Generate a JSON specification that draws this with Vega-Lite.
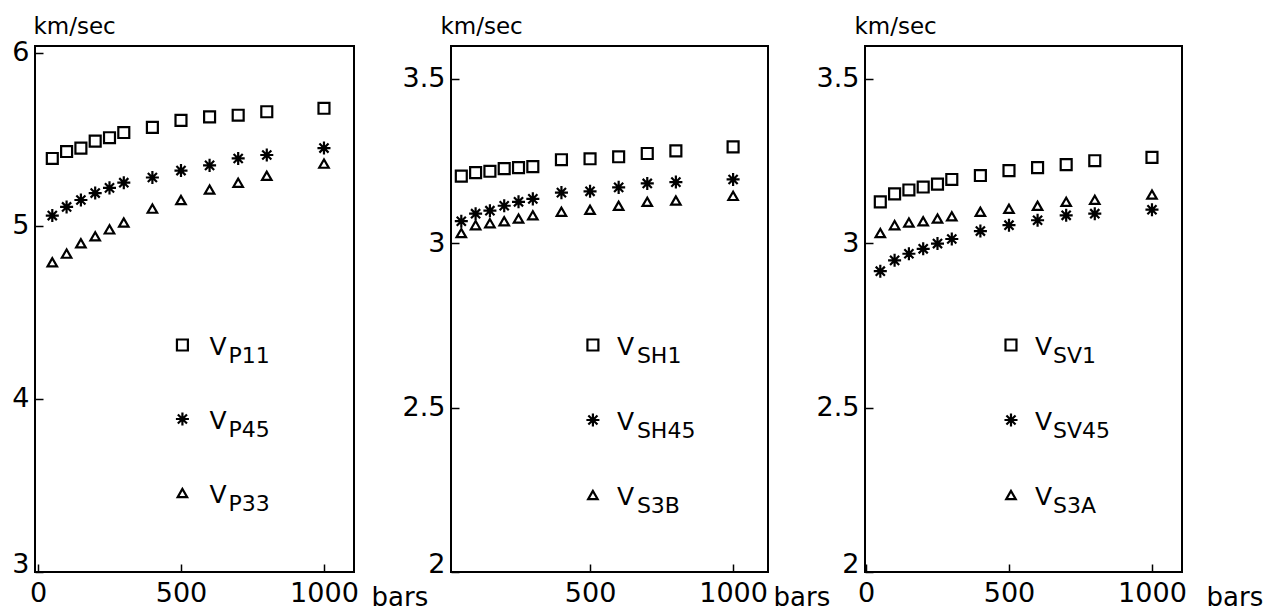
{
  "$schema": "https://vega.github.io/schema/vega-lite/v6.json",
  "background": "white",
  "padding": {"left": 10, "top": 14, "right": 5, "bottom": 5},
  "bounds": "flush",
  "spacing": 97,
  "config": {
    "view": {"stroke": "black", "strokeWidth": 2},
    "font": "DejaVu Sans",
    "axis": {
      "domain": false, "grid": false, "ticks": true, "tickColor": "black", "tickWidth": 1.5, "tickSize": -8,
      "labelColor": "black", "labelFontSize": 27, "labelFont": "DejaVu Sans",
      "titleFont": "DejaVu Sans", "titleFontWeight": "normal", "titleColor": "black"
    },
    "axisX": {"labelPadding": 16, "format": "d"},
    "axisY": {"labelPadding": 14, "format": "~f"},
    "point": {"filled": false, "stroke": "black", "strokeWidth": 2.2, "opacity": 1},
    "text": {"fill": "black", "align": "left", "baseline": "alphabetic"}
  },
  "datasets": {
    "pts": [
      {"panel":"P","series":"P11","symbol":"square","pressure":50,"velocity":5.39},
      {"panel":"P","series":"P11","symbol":"square","pressure":100,"velocity":5.43},
      {"panel":"P","series":"P11","symbol":"square","pressure":150,"velocity":5.45},
      {"panel":"P","series":"P11","symbol":"square","pressure":200,"velocity":5.49},
      {"panel":"P","series":"P11","symbol":"square","pressure":250,"velocity":5.51},
      {"panel":"P","series":"P11","symbol":"square","pressure":300,"velocity":5.54},
      {"panel":"P","series":"P11","symbol":"square","pressure":400,"velocity":5.57},
      {"panel":"P","series":"P11","symbol":"square","pressure":500,"velocity":5.61},
      {"panel":"P","series":"P11","symbol":"square","pressure":600,"velocity":5.63},
      {"panel":"P","series":"P11","symbol":"square","pressure":700,"velocity":5.64},
      {"panel":"P","series":"P11","symbol":"square","pressure":800,"velocity":5.66},
      {"panel":"P","series":"P11","symbol":"square","pressure":1000,"velocity":5.68},
      {"panel":"P","series":"P45","symbol":"star","pressure":50,"velocity":5.06},
      {"panel":"P","series":"P45","symbol":"star","pressure":100,"velocity":5.11},
      {"panel":"P","series":"P45","symbol":"star","pressure":150,"velocity":5.15},
      {"panel":"P","series":"P45","symbol":"star","pressure":200,"velocity":5.19},
      {"panel":"P","series":"P45","symbol":"star","pressure":250,"velocity":5.22},
      {"panel":"P","series":"P45","symbol":"star","pressure":300,"velocity":5.25},
      {"panel":"P","series":"P45","symbol":"star","pressure":400,"velocity":5.28},
      {"panel":"P","series":"P45","symbol":"star","pressure":500,"velocity":5.32},
      {"panel":"P","series":"P45","symbol":"star","pressure":600,"velocity":5.35},
      {"panel":"P","series":"P45","symbol":"star","pressure":700,"velocity":5.39},
      {"panel":"P","series":"P45","symbol":"star","pressure":800,"velocity":5.41},
      {"panel":"P","series":"P45","symbol":"star","pressure":1000,"velocity":5.45},
      {"panel":"P","series":"P33","symbol":"triangle","pressure":50,"velocity":4.79},
      {"panel":"P","series":"P33","symbol":"triangle","pressure":100,"velocity":4.84},
      {"panel":"P","series":"P33","symbol":"triangle","pressure":150,"velocity":4.90},
      {"panel":"P","series":"P33","symbol":"triangle","pressure":200,"velocity":4.94},
      {"panel":"P","series":"P33","symbol":"triangle","pressure":250,"velocity":4.98},
      {"panel":"P","series":"P33","symbol":"triangle","pressure":300,"velocity":5.02},
      {"panel":"P","series":"P33","symbol":"triangle","pressure":400,"velocity":5.10},
      {"panel":"P","series":"P33","symbol":"triangle","pressure":500,"velocity":5.15},
      {"panel":"P","series":"P33","symbol":"triangle","pressure":600,"velocity":5.21},
      {"panel":"P","series":"P33","symbol":"triangle","pressure":700,"velocity":5.25},
      {"panel":"P","series":"P33","symbol":"triangle","pressure":800,"velocity":5.29},
      {"panel":"P","series":"P33","symbol":"triangle","pressure":1000,"velocity":5.36},
      {"panel":"SH","series":"SH1","symbol":"square","pressure":50,"velocity":3.204},
      {"panel":"SH","series":"SH1","symbol":"square","pressure":100,"velocity":3.215},
      {"panel":"SH","series":"SH1","symbol":"square","pressure":150,"velocity":3.219},
      {"panel":"SH","series":"SH1","symbol":"square","pressure":200,"velocity":3.227},
      {"panel":"SH","series":"SH1","symbol":"square","pressure":250,"velocity":3.230},
      {"panel":"SH","series":"SH1","symbol":"square","pressure":300,"velocity":3.233},
      {"panel":"SH","series":"SH1","symbol":"square","pressure":400,"velocity":3.254},
      {"panel":"SH","series":"SH1","symbol":"square","pressure":500,"velocity":3.257},
      {"panel":"SH","series":"SH1","symbol":"square","pressure":600,"velocity":3.263},
      {"panel":"SH","series":"SH1","symbol":"square","pressure":700,"velocity":3.273},
      {"panel":"SH","series":"SH1","symbol":"square","pressure":800,"velocity":3.281},
      {"panel":"SH","series":"SH1","symbol":"square","pressure":1000,"velocity":3.293},
      {"panel":"SH","series":"SH45","symbol":"star","pressure":50,"velocity":3.067},
      {"panel":"SH","series":"SH45","symbol":"star","pressure":100,"velocity":3.090},
      {"panel":"SH","series":"SH45","symbol":"star","pressure":150,"velocity":3.099},
      {"panel":"SH","series":"SH45","symbol":"star","pressure":200,"velocity":3.114},
      {"panel":"SH","series":"SH45","symbol":"star","pressure":250,"velocity":3.126},
      {"panel":"SH","series":"SH45","symbol":"star","pressure":300,"velocity":3.135},
      {"panel":"SH","series":"SH45","symbol":"star","pressure":400,"velocity":3.154},
      {"panel":"SH","series":"SH45","symbol":"star","pressure":500,"velocity":3.158},
      {"panel":"SH","series":"SH45","symbol":"star","pressure":600,"velocity":3.170},
      {"panel":"SH","series":"SH45","symbol":"star","pressure":700,"velocity":3.182},
      {"panel":"SH","series":"SH45","symbol":"star","pressure":800,"velocity":3.186},
      {"panel":"SH","series":"SH45","symbol":"star","pressure":1000,"velocity":3.194},
      {"panel":"SH","series":"S3B","symbol":"triangle","pressure":50,"velocity":3.031},
      {"panel":"SH","series":"S3B","symbol":"triangle","pressure":100,"velocity":3.055},
      {"panel":"SH","series":"S3B","symbol":"triangle","pressure":150,"velocity":3.061},
      {"panel":"SH","series":"S3B","symbol":"triangle","pressure":200,"velocity":3.067},
      {"panel":"SH","series":"S3B","symbol":"triangle","pressure":250,"velocity":3.075},
      {"panel":"SH","series":"S3B","symbol":"triangle","pressure":300,"velocity":3.085},
      {"panel":"SH","series":"S3B","symbol":"triangle","pressure":400,"velocity":3.096},
      {"panel":"SH","series":"S3B","symbol":"triangle","pressure":500,"velocity":3.102},
      {"panel":"SH","series":"S3B","symbol":"triangle","pressure":600,"velocity":3.114},
      {"panel":"SH","series":"S3B","symbol":"triangle","pressure":700,"velocity":3.126},
      {"panel":"SH","series":"S3B","symbol":"triangle","pressure":800,"velocity":3.130},
      {"panel":"SH","series":"S3B","symbol":"triangle","pressure":1000,"velocity":3.144},
      {"panel":"SV","series":"SV1","symbol":"square","pressure":50,"velocity":3.126},
      {"panel":"SV","series":"SV1","symbol":"square","pressure":100,"velocity":3.150},
      {"panel":"SV","series":"SV1","symbol":"square","pressure":150,"velocity":3.162},
      {"panel":"SV","series":"SV1","symbol":"square","pressure":200,"velocity":3.171},
      {"panel":"SV","series":"SV1","symbol":"square","pressure":250,"velocity":3.180},
      {"panel":"SV","series":"SV1","symbol":"square","pressure":300,"velocity":3.194},
      {"panel":"SV","series":"SV1","symbol":"square","pressure":400,"velocity":3.206},
      {"panel":"SV","series":"SV1","symbol":"square","pressure":500,"velocity":3.221},
      {"panel":"SV","series":"SV1","symbol":"square","pressure":600,"velocity":3.230},
      {"panel":"SV","series":"SV1","symbol":"square","pressure":700,"velocity":3.239},
      {"panel":"SV","series":"SV1","symbol":"square","pressure":800,"velocity":3.251},
      {"panel":"SV","series":"SV1","symbol":"square","pressure":1000,"velocity":3.261},
      {"panel":"SV","series":"SV45","symbol":"star","pressure":50,"velocity":2.915},
      {"panel":"SV","series":"SV45","symbol":"star","pressure":100,"velocity":2.948},
      {"panel":"SV","series":"SV45","symbol":"star","pressure":150,"velocity":2.968},
      {"panel":"SV","series":"SV45","symbol":"star","pressure":200,"velocity":2.983},
      {"panel":"SV","series":"SV45","symbol":"star","pressure":250,"velocity":2.999},
      {"panel":"SV","series":"SV45","symbol":"star","pressure":300,"velocity":3.013},
      {"panel":"SV","series":"SV45","symbol":"star","pressure":400,"velocity":3.037},
      {"panel":"SV","series":"SV45","symbol":"star","pressure":500,"velocity":3.055},
      {"panel":"SV","series":"SV45","symbol":"star","pressure":600,"velocity":3.070},
      {"panel":"SV","series":"SV45","symbol":"star","pressure":700,"velocity":3.085},
      {"panel":"SV","series":"SV45","symbol":"star","pressure":800,"velocity":3.090},
      {"panel":"SV","series":"SV45","symbol":"star","pressure":1000,"velocity":3.102},
      {"panel":"SV","series":"S3A","symbol":"triangle","pressure":50,"velocity":3.031},
      {"panel":"SV","series":"S3A","symbol":"triangle","pressure":100,"velocity":3.055},
      {"panel":"SV","series":"S3A","symbol":"triangle","pressure":150,"velocity":3.063},
      {"panel":"SV","series":"S3A","symbol":"triangle","pressure":200,"velocity":3.067},
      {"panel":"SV","series":"S3A","symbol":"triangle","pressure":250,"velocity":3.075},
      {"panel":"SV","series":"S3A","symbol":"triangle","pressure":300,"velocity":3.082},
      {"panel":"SV","series":"S3A","symbol":"triangle","pressure":400,"velocity":3.096},
      {"panel":"SV","series":"S3A","symbol":"triangle","pressure":500,"velocity":3.105},
      {"panel":"SV","series":"S3A","symbol":"triangle","pressure":600,"velocity":3.114},
      {"panel":"SV","series":"S3A","symbol":"triangle","pressure":700,"velocity":3.126},
      {"panel":"SV","series":"S3A","symbol":"triangle","pressure":800,"velocity":3.132},
      {"panel":"SV","series":"S3A","symbol":"triangle","pressure":1000,"velocity":3.148}
    ],
    "leg": [
      {"panel":"P","series":"P11","symbol":"square","main":"V","sub":"P11"},
      {"panel":"P","series":"P45","symbol":"star","main":"V","sub":"P45"},
      {"panel":"P","series":"P33","symbol":"triangle","main":"V","sub":"P33"},
      {"panel":"SH","series":"SH1","symbol":"square","main":"V","sub":"SH1"},
      {"panel":"SH","series":"SH45","symbol":"star","main":"V","sub":"SH45"},
      {"panel":"SH","series":"S3B","symbol":"triangle","main":"V","sub":"S3B"},
      {"panel":"SV","series":"SV1","symbol":"square","main":"V","sub":"SV1"},
      {"panel":"SV","series":"SV45","symbol":"star","main":"V","sub":"SV45"},
      {"panel":"SV","series":"S3A","symbol":"triangle","main":"V","sub":"S3A"}
    ]
  },
  "hconcat": [
    {
      "width": 319, "height": 526,
      "layer": [
        {"data": {"name": "pts"}, "transform": [{"filter": "datum.panel === 'P'"}],
         "mark": {"type": "point"},
         "encoding": {
          "x": {"field": "pressure", "type": "quantitative",
            "scale": {"domain": [-10.5, 1105], "nice": false, "zero": false},
            "axis": {"values": [0, 500, 1000], "title": "bars", "titleFontSize": 26, "titleX": 336, "titleY": 33, "titleAlign": "left", "titleBaseline": "alphabetic", "titleAnchor": null}},
          "y": {"field": "velocity", "type": "quantitative",
            "scale": {"domain": [3, 6.04], "nice": false, "zero": false},
            "axis": {"values": [3, 4, 5, 6], "title": "km/sec", "titleFontSize": 23, "titleAngle": 0, "titleX": -2, "titleY": -13, "titleAlign": "left", "titleBaseline": "alphabetic",
              "labelBaseline": {"condition": {"test": "datum.value === 3", "value": "alphabetic"}, "value": "middle"}}},
          "shape": {"field": "symbol", "type": "nominal", "legend": null,
            "scale": {"domain": ["square", "star", "triangle"], "range": ["square", "M-1,0L1,0M0,-1L0,1M-0.7,-0.7L0.7,0.7M-0.7,0.7L0.7,-0.7", "triangle-up"]}},
          "size": {"field": "symbol", "type": "nominal", "legend": null,
            "scale": {"type": "ordinal", "domain": ["square", "star", "triangle"], "range": [120, 170, 90]}}
         }},
        {"data": {"name": "leg"}, "transform": [{"filter": "datum.panel === 'P'"}],
         "mark": {"type": "point"},
         "encoding": {
          "x": {"datum": 505, "type": "quantitative"},
          "y": {"field": "series", "type": "nominal", "scale": {"type": "point", "domain": ["P11", "P45", "P33"], "range": [299, 447], "padding": 0}, "axis": null},
          "shape": {"field": "symbol", "type": "nominal", "legend": null,
            "scale": {"domain": ["square", "star", "triangle"], "range": ["square", "M-1,0L1,0M0,-1L0,1M-0.7,-0.7L0.7,0.7M-0.7,0.7L0.7,-0.7", "triangle-up"]}},
          "size": {"field": "symbol", "type": "nominal", "legend": null,
            "scale": {"type": "ordinal", "domain": ["square", "star", "triangle"], "range": [100, 150, 80]}}
         }},
        {"data": {"name": "leg"}, "transform": [{"filter": "datum.panel === 'P'"}],
         "mark": {"type": "text", "dx": 27, "dy": 10, "fontSize": 25},
         "encoding": {
          "x": {"datum": 505, "type": "quantitative"},
          "y": {"field": "series", "type": "nominal", "scale": {"type": "point", "domain": ["P11", "P45", "P33"], "range": [299, 447], "padding": 0}, "axis": null},
          "text": {"field": "main"}
         }},
        {"data": {"name": "leg"}, "transform": [{"filter": "datum.panel === 'P'"}],
         "mark": {"type": "text", "dx": 46, "dy": 18, "fontSize": 22},
         "encoding": {
          "x": {"datum": 505, "type": "quantitative"},
          "y": {"field": "series", "type": "nominal", "scale": {"type": "point", "domain": ["P11", "P45", "P33"], "range": [299, 447], "padding": 0}, "axis": null},
          "text": {"field": "sub"}
         }}
      ],
      "resolve": {"scale": {"y": "independent"}, "axis": {"y": "independent"}}
    },
    {
      "width": 317, "height": 526,
      "layer": [
        {"data": {"name": "pts"}, "transform": [{"filter": "datum.panel === 'SH'"}],
         "mark": {"type": "point"},
         "encoding": {
          "x": {"field": "pressure", "type": "quantitative",
            "scale": {"domain": [14, 1122], "nice": false, "zero": false},
            "axis": {"values": [0, 500, 1000], "title": "bars", "titleFontSize": 26, "titleX": 322, "titleY": 33, "titleAlign": "left", "titleBaseline": "alphabetic", "titleAnchor": null}},
          "y": {"field": "velocity", "type": "quantitative",
            "scale": {"domain": [2, 3.6], "nice": false, "zero": false},
            "axis": {"values": [2, 2.5, 3, 3.5], "title": "km/sec", "titleFontSize": 23, "titleAngle": 0, "titleX": -11, "titleY": -13, "titleAlign": "left", "titleBaseline": "alphabetic",
              "labelBaseline": {"condition": {"test": "datum.value === 2", "value": "alphabetic"}, "value": "middle"}}},
          "shape": {"field": "symbol", "type": "nominal", "legend": null,
            "scale": {"domain": ["square", "star", "triangle"], "range": ["square", "M-1,0L1,0M0,-1L0,1M-0.7,-0.7L0.7,0.7M-0.7,0.7L0.7,-0.7", "triangle-up"]}},
          "size": {"field": "symbol", "type": "nominal", "legend": null,
            "scale": {"type": "ordinal", "domain": ["square", "star", "triangle"], "range": [120, 170, 90]}}
         }},
        {"data": {"name": "leg"}, "transform": [{"filter": "datum.panel === 'SH'"}],
         "mark": {"type": "point"},
         "encoding": {
          "x": {"datum": 510, "type": "quantitative"},
          "y": {"field": "series", "type": "nominal", "scale": {"type": "point", "domain": ["SH1", "SH45", "S3B"], "range": [299, 449], "padding": 0}, "axis": null},
          "shape": {"field": "symbol", "type": "nominal", "legend": null,
            "scale": {"domain": ["square", "star", "triangle"], "range": ["square", "M-1,0L1,0M0,-1L0,1M-0.7,-0.7L0.7,0.7M-0.7,0.7L0.7,-0.7", "triangle-up"]}},
          "size": {"field": "symbol", "type": "nominal", "legend": null,
            "scale": {"type": "ordinal", "domain": ["square", "star", "triangle"], "range": [100, 150, 80]}}
         }},
        {"data": {"name": "leg"}, "transform": [{"filter": "datum.panel === 'SH'"}],
         "mark": {"type": "text", "dx": 24, "dy": 10, "fontSize": 25},
         "encoding": {
          "x": {"datum": 510, "type": "quantitative"},
          "y": {"field": "series", "type": "nominal", "scale": {"type": "point", "domain": ["SH1", "SH45", "S3B"], "range": [299, 449], "padding": 0}, "axis": null},
          "text": {"field": "main"}
         }},
        {"data": {"name": "leg"}, "transform": [{"filter": "datum.panel === 'SH'"}],
         "mark": {"type": "text", "dx": 44, "dy": 18, "fontSize": 22},
         "encoding": {
          "x": {"datum": 510, "type": "quantitative"},
          "y": {"field": "series", "type": "nominal", "scale": {"type": "point", "domain": ["SH1", "SH45", "S3B"], "range": [299, 449], "padding": 0}, "axis": null},
          "text": {"field": "sub"}
         }}
      ],
      "resolve": {"scale": {"y": "independent"}, "axis": {"y": "independent"}}
    },
    {
      "width": 317, "height": 526,
      "layer": [
        {"data": {"name": "pts"}, "transform": [{"filter": "datum.panel === 'SV'"}],
         "mark": {"type": "point"},
         "encoding": {
          "x": {"field": "pressure", "type": "quantitative",
            "scale": {"domain": [-3.5, 1105], "nice": false, "zero": false},
            "axis": {"values": [0, 500, 1000], "title": "bars", "titleFontSize": 26, "titleX": 341, "titleY": 33, "titleAlign": "left", "titleBaseline": "alphabetic", "titleAnchor": null}},
          "y": {"field": "velocity", "type": "quantitative",
            "scale": {"domain": [2, 3.6], "nice": false, "zero": false},
            "axis": {"values": [2, 2.5, 3, 3.5], "title": "km/sec", "titleFontSize": 23, "titleAngle": 0, "titleX": -11, "titleY": -13, "titleAlign": "left", "titleBaseline": "alphabetic",
              "labelBaseline": {"condition": {"test": "datum.value === 2", "value": "alphabetic"}, "value": "middle"}}},
          "shape": {"field": "symbol", "type": "nominal", "legend": null,
            "scale": {"domain": ["square", "star", "triangle"], "range": ["square", "M-1,0L1,0M0,-1L0,1M-0.7,-0.7L0.7,0.7M-0.7,0.7L0.7,-0.7", "triangle-up"]}},
          "size": {"field": "symbol", "type": "nominal", "legend": null,
            "scale": {"type": "ordinal", "domain": ["square", "star", "triangle"], "range": [120, 170, 90]}}
         }},
        {"data": {"name": "leg"}, "transform": [{"filter": "datum.panel === 'SV'"}],
         "mark": {"type": "point"},
         "encoding": {
          "x": {"datum": 507, "type": "quantitative"},
          "y": {"field": "series", "type": "nominal", "scale": {"type": "point", "domain": ["SV1", "SV45", "S3A"], "range": [299, 449], "padding": 0}, "axis": null},
          "shape": {"field": "symbol", "type": "nominal", "legend": null,
            "scale": {"domain": ["square", "star", "triangle"], "range": ["square", "M-1,0L1,0M0,-1L0,1M-0.7,-0.7L0.7,0.7M-0.7,0.7L0.7,-0.7", "triangle-up"]}},
          "size": {"field": "symbol", "type": "nominal", "legend": null,
            "scale": {"type": "ordinal", "domain": ["square", "star", "triangle"], "range": [100, 150, 80]}}
         }},
        {"data": {"name": "leg"}, "transform": [{"filter": "datum.panel === 'SV'"}],
         "mark": {"type": "text", "dx": 24, "dy": 10, "fontSize": 25},
         "encoding": {
          "x": {"datum": 507, "type": "quantitative"},
          "y": {"field": "series", "type": "nominal", "scale": {"type": "point", "domain": ["SV1", "SV45", "S3A"], "range": [299, 449], "padding": 0}, "axis": null},
          "text": {"field": "main"}
         }},
        {"data": {"name": "leg"}, "transform": [{"filter": "datum.panel === 'SV'"}],
         "mark": {"type": "text", "dx": 42, "dy": 18, "fontSize": 22},
         "encoding": {
          "x": {"datum": 507, "type": "quantitative"},
          "y": {"field": "series", "type": "nominal", "scale": {"type": "point", "domain": ["SV1", "SV45", "S3A"], "range": [299, 449], "padding": 0}, "axis": null},
          "text": {"field": "sub"}
         }}
      ],
      "resolve": {"scale": {"y": "independent"}, "axis": {"y": "independent"}}
    }
  ]
}
